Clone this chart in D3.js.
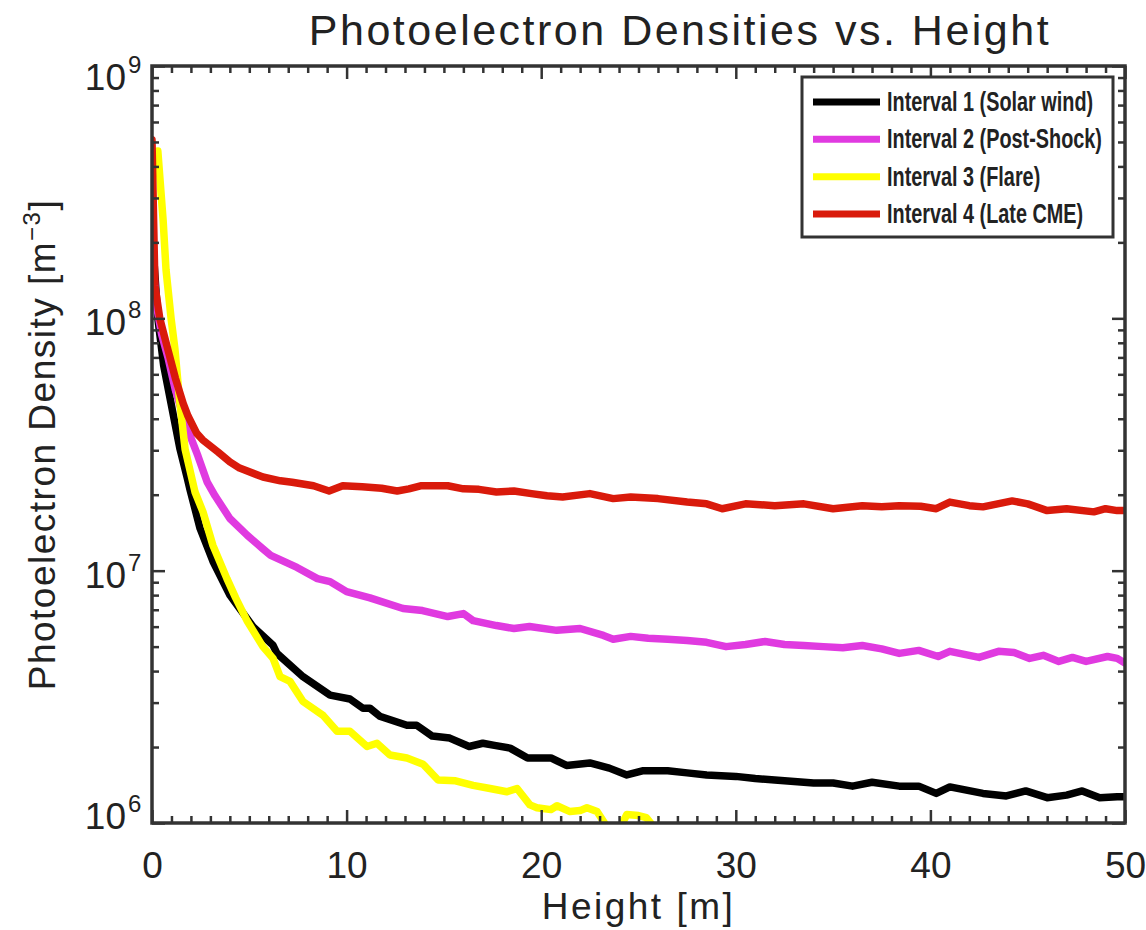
<!DOCTYPE html>
<html>
<head>
<meta charset="utf-8">
<script src="https://cdnjs.cloudflare.com/ajax/libs/d3/7.8.5/d3.min.js"></script>
<style>
  body { margin: 0; background: #fff; }
  text { font-family: "Liberation Sans", Arial, sans-serif; fill: #222; }
</style>
</head>
<body>
<svg id="chart" width="1146" height="930"></svg>
<script>
// Data: [height in m, density in m^-3]
var intervalNames = ["Interval 1 (Solar wind)", "Interval 2 (Post-Shock)", "Interval 3 (Flare)", "Interval 4 (Late CME)"];
var intervalColors = ["#000000", "#e03ae0", "#ffff00", "#d91a0b"];

var solarWind = [
  [0, 2.2e8], [0.3, 1.0e8], [0.6, 6.5e7], [0.98, 4.6e7], [1.44, 3.03e7], [1.8, 2.35e7],
  [1.95, 2.1e7], [2.47, 1.47e7], [3.13, 1.09e7], [4.0, 8.0e6], [4.88, 6.46e6], [5.19, 6.0e6],
  [6.22, 5.06e6], [6.42, 4.7e6], [7.76, 3.8e6], [9.15, 3.21e6], [10.17, 3.1e6], [10.84, 2.85e6],
  [11.2, 2.85e6], [11.7, 2.65e6], [13.1, 2.44e6], [13.6, 2.44e6], [14.4, 2.21e6], [15.3, 2.17e6],
  [16.3, 2.01e6], [17.0, 2.07e6], [17.6, 2.03e6], [18.4, 1.98e6], [19.3, 1.81e6], [20.5, 1.81e6],
  [21.3, 1.69e6], [22.5, 1.73e6], [23.5, 1.65e6], [24.4, 1.55e6], [25.2, 1.61e6], [26.5, 1.61e6],
  [27.5, 1.58e6], [28.5, 1.55e6], [30, 1.53e6], [31, 1.5e6], [32, 1.48e6], [33, 1.46e6],
  [34, 1.44e6], [35, 1.44e6], [36, 1.4e6], [37, 1.45e6], [38.4, 1.4e6], [39.4, 1.4e6],
  [40.3, 1.31e6], [41.0, 1.39e6], [42.7, 1.31e6], [43.9, 1.28e6], [44.9, 1.34e6], [46.0, 1.26e6],
  [47.0, 1.29e6], [47.8, 1.34e6], [48.7, 1.26e6], [49.6, 1.27e6], [50, 1.27e6]
];

var postShock = [
  [0, 1.8e8], [0.25, 1.1e8], [0.5, 8.6e7], [0.82, 7.0e7], [1.2, 5.2e7], [1.6, 4.1e7],
  [1.85, 3.6e7], [2.36, 2.85e7], [2.83, 2.25e7], [3.24, 1.98e7], [4.0, 1.61e7], [4.9, 1.38e7],
  [5.7, 1.22e7], [6.1, 1.15e7], [7.45, 1.03e7], [8.5, 9.3e6], [9.15, 9.05e6], [10.0, 8.26e6],
  [11.2, 7.8e6], [12.9, 7.08e6], [13.9, 6.95e6], [15.2, 6.58e6], [16.0, 6.76e6], [16.5, 6.34e6],
  [17.7, 6.06e6], [18.6, 5.9e6], [19.4, 6.01e6], [20.8, 5.8e6], [22.0, 5.9e6], [23.2, 5.54e6],
  [23.7, 5.35e6], [24.6, 5.49e6], [25.5, 5.4e6], [26.5, 5.35e6], [27.5, 5.29e6], [28.5, 5.2e6],
  [29.5, 5.0e6], [30.5, 5.1e6], [31.5, 5.24e6], [32.5, 5.1e6], [33.5, 5.05e6], [34.5, 5.0e6],
  [35.5, 4.95e6], [36.5, 5.05e6], [37.5, 4.9e6], [38.4, 4.7e6], [39.4, 4.83e6], [40.4, 4.57e6],
  [41.0, 4.79e6], [42.5, 4.53e6], [43.5, 4.79e6], [44.3, 4.74e6], [45.1, 4.49e6], [45.8, 4.62e6],
  [46.6, 4.37e6], [47.3, 4.53e6], [48.0, 4.37e6], [49.1, 4.57e6], [49.6, 4.49e6], [50, 4.3e6]
];

var flare = [
  [0.3, 4.6e8], [0.57, 2.46e8], [0.72, 1.56e8], [0.98, 1.0e8], [1.18, 7.54e7], [1.41, 4.79e7],
  [1.7, 3.03e7], [2.21, 2.05e7], [2.62, 1.71e7], [3.13, 1.26e7], [3.85, 9.3e6], [4.3, 7.8e6],
  [4.9, 6.3e6], [5.7, 5.0e6], [6.22, 4.49e6], [6.58, 3.8e6], [7.09, 3.64e6], [7.76, 3.03e6],
  [8.79, 2.67e6], [9.51, 2.31e6], [10.17, 2.31e6], [11.05, 2.01e6], [11.56, 2.07e6], [12.23, 1.86e6],
  [13.1, 1.81e6], [13.93, 1.71e6], [14.7, 1.48e6], [15.6, 1.47e6], [16.5, 1.41e6], [17.37, 1.37e6],
  [18.24, 1.33e6], [18.76, 1.37e6], [19.42, 1.18e6], [19.78, 1.15e6], [20.5, 1.13e6], [20.81, 1.17e6],
  [21.48, 1.11e6], [22.0, 1.12e6], [22.35, 1.15e6], [22.87, 1.11e6], [23.4, 9.6e5], [24.0, 9.4e5],
  [24.4, 1.08e6], [25.0, 1.07e6], [25.4, 1.05e6], [26.0, 9.2e5], [27.0, 8.8e5]
];

var lateCME = [
  [0, 5.1e8], [0.15, 1.35e8], [0.4, 1.0e8], [0.82, 7.5e7], [1.2, 5.8e7], [1.6, 4.6e7],
  [1.85, 4.1e7], [2.3, 3.5e7], [2.6, 3.3e7], [3.4, 2.95e7], [4.0, 2.7e7], [4.5, 2.55e7],
  [5.7, 2.35e7], [6.6, 2.27e7], [7.2, 2.24e7], [8.3, 2.17e7], [9.1, 2.07e7], [9.8, 2.17e7],
  [10.8, 2.15e7], [11.8, 2.12e7], [12.6, 2.07e7], [13.2, 2.11e7], [13.8, 2.17e7], [15.2, 2.17e7],
  [16.0, 2.11e7], [16.8, 2.1e7], [17.7, 2.05e7], [18.6, 2.07e7], [19.5, 2.02e7], [20.3, 1.98e7],
  [21.1, 1.96e7], [22.5, 2.02e7], [23.7, 1.93e7], [24.6, 1.96e7], [26.0, 1.93e7], [27.5, 1.87e7],
  [28.5, 1.84e7], [29.3, 1.76e7], [30.5, 1.84e7], [32.0, 1.81e7], [33.5, 1.84e7], [35.0, 1.76e7],
  [36.5, 1.81e7], [37.5, 1.79e7], [38.4, 1.81e7], [39.5, 1.8e7], [40.3, 1.76e7], [41.0, 1.87e7],
  [42.0, 1.81e7], [42.7, 1.79e7], [44.2, 1.89e7], [45.0, 1.84e7], [46.0, 1.73e7], [47.0, 1.76e7],
  [48.4, 1.71e7], [49.0, 1.76e7], [49.6, 1.73e7], [50, 1.73e7]
];

var heightTicks = [0, 10, 20, 30, 40, 50];
var densityDecades = [1e6, 1e7, 1e8, 1e9];
var decadeExponents = ["6", "7", "8", "9"];

var allSeries = [solarWind, postShock, flare, lateCME];

// Layout
var svgW = 1146, svgH = 930;
var margin = {top: 66, right: 21, bottom: 107, left: 152};
var plotW = svgW - margin.left - margin.right;
var plotH = svgH - margin.top - margin.bottom;
var axisColor = "#333";

var svg = d3.select("#chart");

// Scales
var xScale = d3.scaleLinear().domain([0, 50]).range([margin.left, margin.left + plotW]);
var yScale = d3.scaleLog().domain([1e6, 1e9]).range([margin.top + plotH, margin.top]);

var minorHeights = d3.range(0, 51).filter(function(d) { return d % 10 !== 0; });
var minorDensities = [];
[1e6, 1e7, 1e8].forEach(function(dec) {
  for (var m = 2; m <= 9; m++) minorDensities.push(m * dec);
});

// Clip for the curves
svg.append("clipPath").attr("id", "plotClip")
  .append("rect")
    .attr("x", margin.left).attr("y", margin.top)
    .attr("width", plotW).attr("height", plotH);

// Curves
var line = d3.line()
  .x(function(d) { return xScale(d[0]); })
  .y(function(d) { return yScale(d[1]); });

svg.append("g")
  .attr("clip-path", "url(#plotClip)")
  .selectAll("path")
  .data(allSeries)
  .join("path")
    .attr("d", line)
    .attr("fill", "none")
    .attr("stroke", function(d, i) { return intervalColors[i]; })
    .attr("stroke-width", 7.5)
    .attr("stroke-linejoin", "round")
    .attr("stroke-linecap", "round");

// Tick marks (all pointing inward, on all four sides)
function tickStyle(g) {
  g.select(".domain").remove();
  g.selectAll(".tick line").attr("stroke", axisColor).attr("stroke-width", 2.5);
}

svg.append("g").attr("transform", "translate(0," + (margin.top + plotH) + ")")
  .call(d3.axisBottom(xScale).tickValues(heightTicks).tickSize(-13).tickPadding(29).tickFormat(d3.format("d")))
  .call(tickStyle)
  .call(function(g) {
    g.selectAll("text").attr("font-size", 37).attr("fill", "#222")
      .style("font-family", "'Liberation Sans', Arial, sans-serif");
  });
svg.append("g").attr("transform", "translate(0," + (margin.top + plotH) + ")")
  .call(d3.axisBottom(xScale).tickValues(minorHeights).tickSize(-7).tickFormat(""))
  .call(tickStyle);
svg.append("g").attr("transform", "translate(0," + margin.top + ")")
  .call(d3.axisTop(xScale).tickValues(heightTicks).tickSize(-13).tickFormat(""))
  .call(tickStyle);
svg.append("g").attr("transform", "translate(0," + margin.top + ")")
  .call(d3.axisTop(xScale).tickValues(minorHeights).tickSize(-7).tickFormat(""))
  .call(tickStyle);

svg.append("g").attr("transform", "translate(" + margin.left + ",0)")
  .call(d3.axisLeft(yScale).tickValues(densityDecades).tickSize(-13).tickFormat(""))
  .call(tickStyle);
svg.append("g").attr("transform", "translate(" + margin.left + ",0)")
  .call(d3.axisLeft(yScale).tickValues(minorDensities).tickSize(-7).tickFormat(""))
  .call(tickStyle);
svg.append("g").attr("transform", "translate(" + (margin.left + plotW) + ",0)")
  .call(d3.axisRight(yScale).tickValues(densityDecades).tickSize(-13).tickFormat(""))
  .call(tickStyle);
svg.append("g").attr("transform", "translate(" + (margin.left + plotW) + ",0)")
  .call(d3.axisRight(yScale).tickValues(minorDensities).tickSize(-7).tickFormat(""))
  .call(tickStyle);

// Frame
svg.append("rect")
  .attr("x", margin.left).attr("y", margin.top)
  .attr("width", plotW).attr("height", plotH)
  .attr("fill", "none").attr("stroke", axisColor).attr("stroke-width", 3.5);

// Y tick labels: 10^n, kept inside the vertical extent of the frame
var yLab = svg.append("g").selectAll("g")
  .data(densityDecades)
  .join("g")
    .attr("transform", function(d) {
      var c = Math.min(Math.max(yScale(d) + 4, margin.top + 11), margin.top + plotH - 7);
      return "translate(" + (margin.left - 26) + "," + (c + 13) + ")";
    });
yLab.append("text")
  .attr("text-anchor", "end")
  .attr("font-size", 37)
  .text("10");
yLab.append("text")
  .attr("x", 2).attr("y", -17)
  .attr("font-size", 24)
  .text(function(d, i) { return decadeExponents[i]; });

// Title
svg.append("text")
  .attr("x", 680).attr("y", 45)
  .attr("text-anchor", "middle")
  .attr("font-size", 43)
  .attr("letter-spacing", 2.5)
  .text("Photoelectron Densities vs. Height");

// Axis titles
svg.append("text")
  .attr("x", margin.left + plotW / 2).attr("y", 919)
  .attr("text-anchor", "middle")
  .attr("font-size", 37)
  .attr("letter-spacing", 2.5)
  .text("Height [m]");

var yTitle = svg.append("text")
  .attr("transform", "translate(55," + (margin.top + plotH / 2) + ") rotate(-90)")
  .attr("text-anchor", "middle")
  .attr("font-size", 37)
  .attr("letter-spacing", 1.5);
yTitle.append("tspan").text("Photoelectron Density [m");
yTitle.append("tspan").attr("font-size", 24).attr("dy", -15).text("\u22123");
yTitle.append("tspan").attr("dy", 15).text("]");

// Legend
var legX = 802, legY = 77, legW = 311, legH = 160;
var legend = svg.append("g");
legend.append("rect")
  .attr("x", legX).attr("y", legY).attr("width", legW).attr("height", legH)
  .attr("fill", "#fff").attr("stroke", axisColor).attr("stroke-width", 3);

var rowY = d3.scalePoint().domain(intervalNames).range([legY + 25, legY + 137]);

legend.selectAll("line")
  .data(intervalNames)
  .join("line")
    .attr("x1", legX + 11).attr("x2", legX + 78)
    .attr("y1", function(d) { return rowY(d); })
    .attr("y2", function(d) { return rowY(d); })
    .attr("stroke", function(d, i) { return intervalColors[i]; })
    .attr("stroke-width", 7);

var legText = legend.selectAll("text")
  .data(intervalNames)
  .join("text")
    .attr("font-size", 27)
    .attr("font-weight", "bold")
    .style("font-family", "'Liberation Sans Narrow', 'Liberation Sans', Arial, sans-serif")
    .text(function(d) { return d; });

// squeeze the legend text to the narrow look of the original
var maxLen = d3.max(legText.nodes(), function(n) { return n.getComputedTextLength(); });
var sx = 215 / maxLen;
legText.attr("transform", function(d) { return "translate(" + (legX + 85) + "," + (rowY(d) + 9) + ") scale(" + sx + ",1)"; });
</script>
</body>
</html>
